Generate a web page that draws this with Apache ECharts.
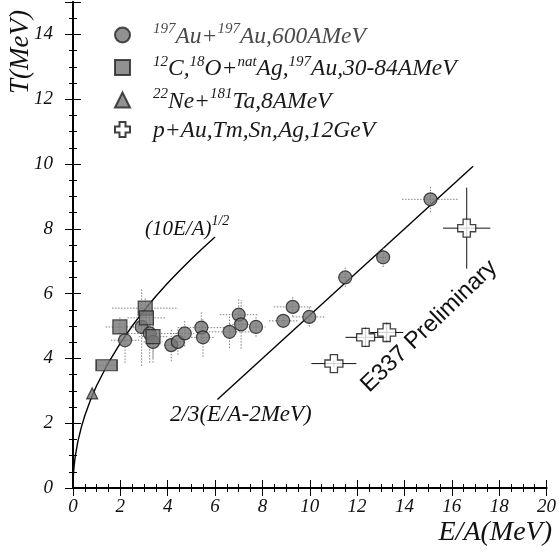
<!DOCTYPE html>
<html><head><meta charset="utf-8">
<script src="https://cdn.jsdelivr.net/npm/echarts@6/dist/echarts.min.js"></script>
<style>html,body{margin:0;padding:0;background:#fff}#c{width:559px;height:554px}</style>
</head><body><div id="c"></div>
<script>
// ---- tick labels ----
const xTickLabels = ['0','2','4','6','8','10','12','14','16','18','20'];
const yTickLabels = ['0','2','4','6','8','10','12','14'];

// ---- 197Au+197Au, 600 AMeV (circles) ----
const auX    = [2.2, 2.9, 3.24, 3.38, 4.15, 4.43, 4.72, 5.42, 5.49, 6.61, 7.0, 7.1, 7.73, 8.88, 9.28, 9.98, 11.5, 13.1, 15.1];
const auT    = [4.56, 4.97, 4.77, 4.51, 4.41, 4.51, 4.77, 4.95, 4.65, 4.82, 5.35, 5.05, 4.97, 5.16, 5.59, 5.28, 6.5, 7.12, 8.91];
const auXErr = [0.6, 0.4, 1.3, 0.4, 0.3, 0.3, 0.4, 1.0, 0.5, 1.0, 0.8, 0.5, 0.4, 0.6, 0.8, 0.7, 0.3, 0.3, 1.2];
const auTErr = [0.7, 1.2, 0.9, 0.5, 0.5, 0.4, 0.4, 0.5, 0.6, 0.5, 0.5, 0.75, 0.3, 0.2, 0.3, 0.3, 0.3, 0.3, 0.4];

// ---- 12C,18O + natAg,197Au, 30-84 AMeV (squares) ----
const coX    = [1.42, 1.98, 3.05, 3.1, 3.38];
const coT    = [3.79, 4.97, 5.55, 5.25, 4.67];
const coXErr = [0.45, 0.6, 1.4, 0.8, 0.6];
const coTErr = [0.1, 0.3, 0.3, 0.3, 0.8];

// ---- 22Ne+181Ta, 8 AMeV (triangle) ----
const neX = [0.81];
const neT = [2.92];

// ---- p+Au,Tm,Sn,Ag, 12 GeV (open crosses) ----
const pX    = [11.02, 12.36, 13.25, 16.63];
const pT    = [3.84, 4.65, 4.80, 8.02];
const pXErr = [0.95, 0.85, 0.7, 1.0];
const pTErr = [0.1, 0.3, 0.3, 1.25];

// ---- model curves ----
const sqrtX = [0, 0.005, 0.02, 0.05, 0.1, 0.2, 0.35, 0.5, 0.75, 1, 1.5, 2, 2.5, 3, 3.5, 4, 4.5, 5, 5.5, 6];
const linX  = [6.1, 16.9];

const names = ['Au600', 'CO', 'Ne', 'p'];
const legendText = {
  Au600: '{g|}{s1|197}{n1|Au+}{s1|197}{n1|Au,600AMeV}',
  CO:    '{g|}{s|12}{n|C,}{s|18}{n|O+}{s|nat}{n|Ag,}{s|197}{n|Au,30-84AMeV}',
  Ne:    '{g|}{s|22}{n|Ne+}{s|181}{n|Ta,8AMeV}',
  p:     '{g|}{n|p+Au,Tm,Sn,Ag,12GeV}'
};

const serif = 'Liberation Serif';
const zip = (a, b) => a.map((v, i) => [v, b[i]]);
const zip4 = (a, b, c, d) => a.map((v, i) => [v, b[i], c[i], d[i]]);

function errBars(color, dash, width) {
  return function (params, api) {
    const x = api.value(0), y = api.value(1), dx = api.value(2), dy = api.value(3);
    const a = api.coord([x - dx, y]), b = api.coord([x + dx, y]);
    const c = api.coord([x, y - dy]), d = api.coord([x, y + dy]);
    const st = { stroke: color, lineWidth: width, lineDash: dash };
    return { type: 'group', children: [
      { type: 'line', shape: { x1: a[0], y1: a[1], x2: b[0], y2: b[1] }, style: st },
      { type: 'line', shape: { x1: c[0], y1: c[1], x2: d[0], y2: d[1] }, style: st }
    ]};
  };
}

const crossPath = 'path://M3,0H7V3H10V7H7V10H3V7H0V3H3Z';
const fillGray = '#757575';

const chart = echarts.init(document.getElementById('c'), null, { renderer: 'canvas' });
const axisCommon = {
  min: 0, axisLine: { lineStyle: { color: '#000', width: 1.8 } },
  splitLine: { show: false },
  axisTick: { inside: true, length: 8, lineStyle: { color: '#000', width: 1 } },
  minorTick: { show: true, splitNumber: 4, length: 4, lineStyle: { color: '#000', width: 1 } }
};
const nTok = { fontFamily: serif, fontStyle: 'italic', fontSize: 23.5, color: '#1a1a1a', lineHeight: 26, verticalAlign: 'bottom' };
const sTok = { fontFamily: serif, fontStyle: 'italic', fontSize: 15, color: '#1a1a1a', lineHeight: 15, verticalAlign: 'top' };
const tickFont = { fontFamily: serif, fontStyle: 'italic', fontSize: 19, color: '#111' };
chart.setOption({
  animation: false,
  backgroundColor: '#fff',
  grid: { left: 73, right: 11, top: 2, bottom: 66 },
  xAxis: [
    Object.assign({}, axisCommon, { type: 'value', max: 20, interval: 2, position: 'bottom',
      axisLabel: Object.assign({ margin: 9, formatter: v => xTickLabels[Math.round(v / 2)] }, tickFont) }),
    Object.assign({}, axisCommon, { type: 'value', max: 20, interval: 2, position: 'top', axisLabel: { show: false } })
  ],
  yAxis: [
    Object.assign({}, axisCommon, { type: 'value', max: 15, interval: 2, position: 'left',
      axisLabel: Object.assign({ margin: 20, showMaxLabel: false, formatter: v => (yTickLabels[Math.round(v / 2)] || '') }, tickFont) }),
    Object.assign({}, axisCommon, { type: 'value', max: 15, interval: 2, position: 'right', axisLabel: { show: false } })
  ],
  legend: {
    data: names, orient: 'vertical', left: 114, top: 22, itemGap: 6.5,
    itemWidth: 15, itemHeight: 15, padding: 0,
    formatter: n => legendText[n],
    textStyle: {
      rich: {
        g: { width: 18 },
        n: nTok, s: sTok,
        n1: Object.assign({}, nTok, { color: '#4a4a4a' }),
        s1: Object.assign({}, sTok, { color: '#4a4a4a' })
      }
    }
  },
  series: [
    { type: 'line', data: sqrtX.map(x => [x, Math.sqrt(10 * x)]), showSymbol: false, smooth: false,
      lineStyle: { color: '#000', width: 1.4 }, silent: true, z: 1 },
    { type: 'line', data: linX.map(x => [x, 2 / 3 * (x - 2)]), showSymbol: false,
      lineStyle: { color: '#000', width: 1.4 }, silent: true, z: 1 },
    { type: 'custom', renderItem: errBars('#808080', [1.5, 1.5], 1), data: zip4(auX, auT, auXErr, auTErr), z: 2 },
    { type: 'custom', renderItem: errBars('#808080', [1.5, 1.5], 1), data: zip4(coX, coT, coXErr, coTErr), z: 2 },
    { type: 'custom', renderItem: errBars('#111', null, 1), data: zip4(pX, pT, pXErr, pTErr), z: 2 },
    { name: 'Au600', type: 'scatter', symbol: 'circle', symbolSize: 13, data: zip(auX, auT), z: 5,
      itemStyle: { color: fillGray, borderColor: '#222', borderWidth: 1.2 } },
    { name: 'CO', type: 'scatter', symbol: 'rect', data: zip(coX, coT), z: 5,
      symbolSize: (v, p) => p.dataIndex === 0 ? [21, 11] : 14,
      itemStyle: { color: fillGray, borderColor: '#222', borderWidth: 1.2 } },
    { name: 'Ne', type: 'scatter', symbol: 'triangle', symbolSize: 11, data: zip(neX, neT), z: 5,
      itemStyle: { color: fillGray, borderColor: '#222', borderWidth: 1.2 } },
    { name: 'p', type: 'scatter', symbol: crossPath, symbolSize: 18, data: zip(pX, pT), z: 6,
      itemStyle: { color: '#fff', borderColor: '#111', borderWidth: 1.3 } }
  ],
  graphic: [
    { type: 'text', x: 21, y: 52, rotation: Math.PI / 2, style: { text: 'T(MeV)', fontFamily: serif, fontStyle: 'italic', fontSize: 27, fill: '#111', align: 'center', verticalAlign: 'middle' } },
    { type: 'text', x: 552, y: 533, style: { text: 'E/A(MeV)', fontFamily: serif, fontStyle: 'italic', fontSize: 28, fill: '#111', align: 'right', verticalAlign: 'middle' } },
    { type: 'text', x: 145, y: 227, style: { text: '{n|(10E/A)}{s|1/2}', align: 'left', verticalAlign: 'middle',
        rich: { n: { fontFamily: serif, fontStyle: 'italic', fontSize: 21, fill: '#111', lineHeight: 26, verticalAlign: 'bottom' },
                s: { fontFamily: serif, fontStyle: 'italic', fontSize: 14, fill: '#111', lineHeight: 14, verticalAlign: 'top' } } } },
    { type: 'text', x: 170, y: 415, style: { text: '2/3(E/A-2MeV)', fontFamily: serif, fontStyle: 'italic', fontSize: 23, fill: '#111', align: 'left', verticalAlign: 'middle' } },
    { type: 'text', x: 373, y: 397, rotation: 44 * Math.PI / 180, style: { text: 'E337 Preliminary', fontFamily: 'Liberation Sans', fontSize: 23.5, fill: '#111', align: 'left', verticalAlign: 'bottom' } }
  ]
});
</script></body></html>
